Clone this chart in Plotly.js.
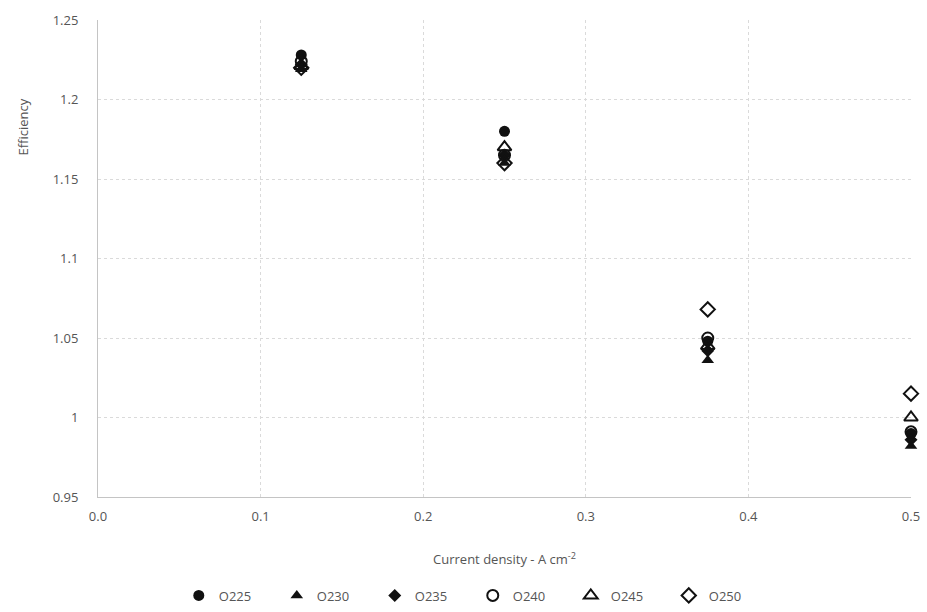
<!DOCTYPE html>
<html>
<head>
<meta charset="utf-8">
<script src="https://cdn.plot.ly/plotly-3.0.1.min.js"></script>
<style>
  html, body { margin: 0; padding: 0; background: #fff; }
  #chart { width: 927px; height: 612px; }
</style>
</head>
<body>
<div id="chart"></div>
<script>
// Current density (A cm-2)
const currentDensity = [0.125, 0.25, 0.375, 0.5];

// Efficiency per sample
const seriesNames = ["O225", "O230", "O235", "O240", "O245", "O250"];
const effO225 = [1.228, 1.180, 1.048, 0.990];
const effO230 = [1.219, 1.160, 1.036, 0.982];
const effO235 = [1.222, 1.165, 1.042, 0.986];
const effO240 = [1.224, 1.165, 1.050, 0.991];
const effO245 = [1.221, 1.170, 1.045, 1.000];
const effO250 = [1.220, 1.160, 1.068, 1.015];

const yTicks = [0.95, 1, 1.05, 1.1, 1.15, 1.2, 1.25];
const xTicks = [0.0, 0.1, 0.2, 0.3, 0.4, 0.5];

const seriesValues = [effO225, effO230, effO235, effO240, effO245, effO250];
const symbols = ["circle", "triangle-up", "diamond", "circle-open", "triangle-up-open", "diamond-open"];
const sizes = [11, 11, 10, 11, 12, 11];

const font = "Open Sans, Liberation Sans, sans-serif";
const textColor = "#555";
const gridColor = "#dadada";

const traces = seriesNames.map((name, i) => ({
  type: "scatter",
  mode: "markers",
  name: name,
  x: currentDensity,
  y: seriesValues[i],
  cliponaxis: false,
  marker: {
    symbol: symbols[i],
    size: sizes[i],
    color: "#111",
    line: { color: "#111", width: symbols[i].endsWith("open") ? 2 : 0 }
  }
}));

const layout = {
  width: 927,
  height: 612,
  margin: { l: 98, r: 16, t: 20, b: 115, autoexpand: false },
  paper_bgcolor: "#fff",
  plot_bgcolor: "#fff",
  font: { family: font, size: 12, color: textColor },
  showlegend: true,
  legend: {
    orientation: "h",
    xref: "container",
    x: 0.51, xanchor: "center",
    y: -0.175, yanchor: "top",
    font: { family: font, size: 13, color: textColor },
    entrywidth: 53,
    entrywidthmode: "pixels",
    itemwidth: 30,
    tracegroupgap: 0,
    traceorder: "normal"
  },
  xaxis: {
    range: [0, 0.5],
    tickvals: xTicks,
    tickformat: ".1f",
    showgrid: true,
    gridcolor: gridColor,
    griddash: "dot",
    gridwidth: 1,
    zeroline: false,
    showline: true,
    linecolor: "#c4c4c4",
    linewidth: 1,
    ticks: "",
    ticklabelstandoff: 7,
    tickfont: { family: font, size: 13, color: textColor },
    title: {
      text: "Current density - A cm<sup>-2</sup>",
      font: { family: font, size: 13, color: textColor },
      standoff: 31
    }
  },
  yaxis: {
    range: [0.95, 1.25],
    tickvals: yTicks,
    ticktext: yTicks.map(v => String(v)),
    showgrid: true,
    gridcolor: gridColor,
    griddash: "dot",
    gridwidth: 1,
    zeroline: false,
    showline: true,
    linecolor: "#c4c4c4",
    linewidth: 1,
    ticks: "",
    ticklabelstandoff: 16,
    tickfont: { family: font, size: 13, color: textColor }
  },
  annotations: [{
    text: "Efficiency",
    textangle: -90,
    xref: "paper", yref: "paper",
    x: -0.092, y: 0.775,
    xanchor: "center", yanchor: "middle",
    showarrow: false,
    font: { family: font, size: 13, color: textColor }
  }]
};

Plotly.newPlot("chart", traces, layout, { displayModeBar: false, staticPlot: true });
</script>
</body>
</html>
